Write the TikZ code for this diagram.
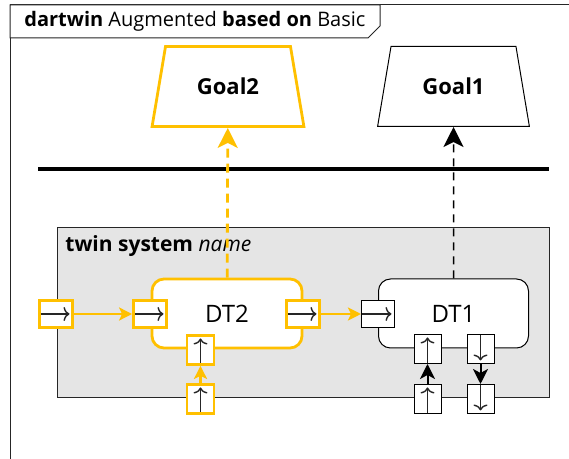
\documentclass[tikz,border=0pt]{standalone}
\usepackage{fontspec}
\setmainfont{Open Sans}
\setsansfont{Open Sans}
\usetikzlibrary{shapes.geometric,arrows.meta}
\definecolor{dtyellow}{RGB}{255,192,0}
\begin{document}
\begin{tikzpicture}[x=0.5pt,y=-0.5pt]
    \tikzset{>={Stealth[length=6.5pt,width=6.5pt,inset=1.5pt]},
      frame/.style={draw=black!85,line width=0.5pt},
      goal/.style={trapezium,trapezium stretches=true,trapezium left angle=75,
        trapezium right angle=75,draw,line width=0.5pt,minimum width=76pt,
        minimum height=40pt,font=\bfseries\fontsize{11}{13}\selectfont},
      twin/.style={draw,line width=0.5pt,rounded corners=6pt,fill=white,
        minimum width=75pt,minimum height=34.5pt,font=\fontsize{12}{14}\selectfont},
      port/.style={draw,fill=white,inner sep=0pt,line width=0.5pt},
      tip/.style={-{Computer Modern Rightarrow[length=3pt,width=7pt]},black!85,line width=0.7pt},
      portr/.style={port,minimum width=16.5pt,minimum height=13.5pt,
        path picture={\draw[tip] (path picture bounding box.west)
          -- ([xshift=-1.5pt]path picture bounding box.east);}},
      portu/.style={port,minimum width=13.5pt,minimum height=14.5pt,
        path picture={\draw[tip] (path picture bounding box.south)
          -- ([yshift=-1.5pt]path picture bounding box.north);}},
      portd/.style={port,minimum width=13.5pt,minimum height=14.5pt,
        path picture={\draw[tip] (path picture bounding box.north)
          -- ([yshift=1.5pt]path picture bounding box.south);}},
      hot/.style={draw=dtyellow,line width=1.4pt},
      flow/.style={->,line width=1.4pt,dtyellow},
      aim/.style={-{Stealth[length=10pt,width=10pt,inset=2.5pt]}}};
    \useasboundingbox (0,0) rectangle (569,459);
    % frame and title
    \draw[frame] (10,459) -- (10,5) -- (569,5);
    \draw[frame,fill=white] (10,5) -- (380,5) -- (380,26) -- (368,38) -- (10,38) -- cycle;
    \node[anchor=west,inner sep=0pt,font=\fontsize{10}{12}\selectfont] (title) at (24,21)
      {\textbf{dartwin} Augmented \textbf{based on} Basic};
    % goals
    \node[goal,hot] (G2) at (228,86.5) {Goal2};
    \node[goal] (G1) at (453.5,86.5) {Goal1};
    \draw[line width=2pt] (38,169) -- (549,169);
    % twin system
    \node[frame,fill=black!10,minimum width=246pt,minimum height=85pt,inner sep=0pt]
      (sys) at (303,313) {};
    \node[anchor=west,inner sep=0pt,font=\fontsize{10.5}{12}\selectfont] (sysname) at (65,246)
      {\textbf{twin system} \textit{name}};
    \node[twin,hot] (DT2) at (227,313.5) {DT2};
    \node[twin] (DT1) at (453.5,313.5) {DT1};
    % ports
    \node[portr,hot] (inL) at (56,314) {};
    \node[portr,hot] (DT2in) at (150,314) {};
    \node[portr,hot] (DT2out) at (303,314) {};
    \node[portr] (DT1in) at (378,314) {};
    \node[portu,hot] (DT2up) at (200.5,350) {};
    \node[portu,hot] (inB) at (200.5,399) {};
    \node[portu] (DT1up) at (427.5,349) {};
    \node[portu] (inC) at (427.5,399) {};
    \node[portd] (DT1down) at (480.5,349) {};
    \node[portd] (outC) at (480.5,399) {};
    % connectors
    \draw[flow] (inL) -- (DT2in);
    \draw[flow] (DT2out) -- (DT1in);
    \draw[flow] (inB) -- (DT2up);
    \draw[-{Stealth[length=7.5pt,width=7.5pt,inset=2pt]},line width=1pt] (inC) -- (DT1up);
    \draw[-{Stealth[length=7.5pt,width=7.5pt,inset=2pt]},line width=1pt] (DT1down) -- (outC);
    \draw[aim,dash pattern=on 4.5pt off 3pt,dtyellow,line width=1.4pt] (DT2) -- (G2);
    \draw[aim,dash pattern=on 4pt off 3pt,line width=0.75pt] (DT1) -- (G1);
  \end{tikzpicture}
\end{document}
